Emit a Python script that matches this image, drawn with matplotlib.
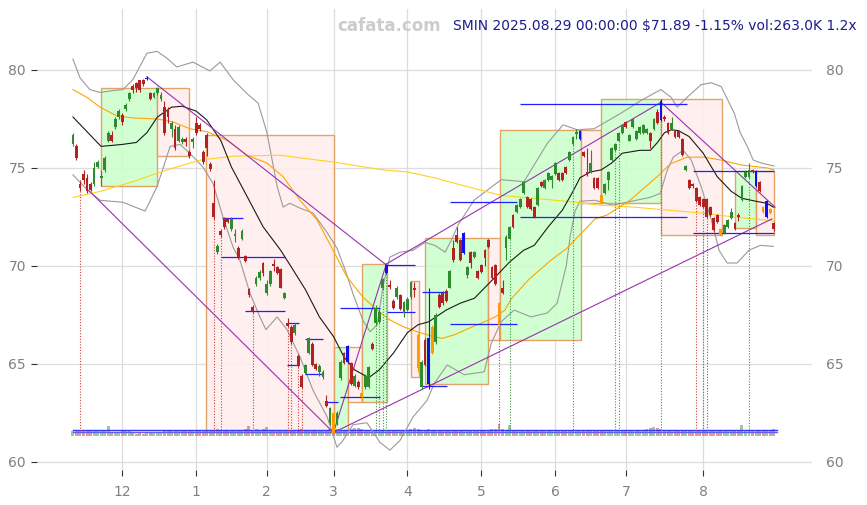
import matplotlib
matplotlib.use('Agg')
import matplotlib.pyplot as plt
from matplotlib.patches import Rectangle
import numpy as np

# ---------------- data ----------------
kinds = list("grrrrrgggg" "grggrggrrr" "rbrgggrrgr" "ggrrgrrrrr" "rgrrrggrgr"
             "rrggrggrrr" "grrgrrggrr" "ggrgoggrbr" "groggrgggb" "rrgrgggrog"
             "rbogrrrgrr" "rbgrgrrrrr" "rorggrgggr" "rrgrggggrr" "rgggbrrgrr"
             "oggggggrgg" "ggggrgrbrr" "grrrgrrrrr" "rrrrogggrr" "gggrbrobor")

opens = [76.2, 76.1, 74.2, 74.7, 74.5, 74.2, 74.2, 75.05, 74.5, 74.9,
         76.4, 76.7, 77.1, 77.6, 77.7, 78.0, 78.5, 79.2, 79.35, 79.5,
         79.5, 79.55, 78.8, 78.6, 78.8, 78.5, 78.1, 77.9, 77.0, 77.0,
         76.4, 76.3, 76.5, 75.8, 76.3, 77.3, 77.2, 75.8, 76.7, 75.2,
         73.2, 70.7, 71.8, 72.45, 72.4, 71.9, 71.55, 70.9, 71.4, 70.5,
         68.8, 67.9, 69.1, 69.4, 70.15, 68.6, 69.1, 70.1, 69.95, 69.85,
         68.35, 67.1, 66.9, 66.6, 65.4, 64.4, 64.55, 65.55, 66.0, 65.0,
         64.6, 64.35, 63.1, 62.0, 62.5, 62.0, 64.3, 65.55, 65.1, 65.05,
         63.9, 64.1, 63.5, 63.8, 63.8, 66.0, 67.1, 67.15, 68.9, 69.65,
         69.05, 68.2, 68.4, 68.5, 67.6, 67.75, 68.4, 68.85, 66.5, 63.8,
         66.2, 64.0, 66.9, 66.1, 68.5, 68.6, 68.7, 68.9, 70.9, 71.6,
         71.3, 70.65, 69.55, 70.7, 70.45, 69.75, 70.05, 70.8, 71.3, 69.95,
         70.05, 68.1, 68.9, 70.9, 71.4, 72.6, 72.75, 73.0, 73.7, 73.5,
         73.4, 73.0, 73.1, 74.3, 74.0, 74.4, 74.4, 74.7, 74.75, 74.75,
         75.05, 75.4, 76.2, 76.75, 76.5, 75.8, 74.8, 74.8, 74.5, 74.5,
         73.6, 73.7, 74.4, 75.4, 75.9, 76.4, 76.8, 77.35, 76.4, 77.1,
         76.5, 76.8, 76.8, 76.8, 76.8, 77.0, 77.85, 77.45, 77.6, 77.3,
         77.0, 76.9, 76.9, 76.5, 74.9, 74.4, 74.2, 74.0, 73.5, 73.4,
         73.4, 73.0, 72.45, 72.6, 71.9, 71.7, 72.0, 72.45, 72.2, 72.6,
         73.35, 74.55, 74.55, 74.9, 74.85, 74.3, 73.0, 73.3, 72.9, 72.2]

closes = [76.7, 75.5, 74.0, 74.4, 73.8, 73.9, 75.0, 75.3, 74.6, 75.5,
          76.8, 76.4, 77.5, 77.9, 77.35, 78.2, 78.8, 79.0, 79.1, 79.0,
          79.3, 79.6, 78.5, 78.8, 79.1, 78.7, 76.8, 77.6, 77.3, 76.0,
          77.1, 76.5, 76.3, 75.6, 76.5, 76.8, 77.0, 75.3, 76.0, 74.95,
          72.5, 71.0, 71.6, 72.0, 72.25, 72.4, 71.65, 70.4, 71.8, 70.25,
          68.5, 67.65, 69.4, 69.7, 69.65, 69.1, 69.75, 70.0, 69.65, 68.9,
          68.6, 66.95, 66.1, 67.0, 64.9, 63.8, 64.95, 66.3, 64.95, 64.75,
          64.9, 64.6, 62.85, 62.75, 61.5, 62.5, 65.1, 65.05, 65.9, 64.0,
          64.4, 63.8, 63.3, 64.4, 64.85, 65.75, 67.85, 67.65, 69.35, 70.05,
          68.95, 67.85, 68.9, 67.8, 68.15, 68.3, 69.2, 68.75, 64.8, 65.1,
          64.95, 66.3, 65.55, 67.5, 67.9, 68.1, 68.2, 69.75, 70.3, 71.2,
          70.3, 71.7, 69.95, 70.15, 70.7, 69.4, 69.7, 70.4, 70.95, 69.4,
          69.1, 67.0, 68.6, 71.5, 72.0, 72.0, 73.1, 73.4, 74.3, 73.0,
          72.9, 72.5, 74.0, 74.1, 74.4, 74.75, 74.6, 75.25, 74.4, 74.4,
          74.75, 75.8, 76.6, 76.85, 76.9, 75.6, 74.65, 75.25, 74.0, 74.0,
          73.2, 74.2, 74.8, 76.0, 76.2, 76.8, 77.2, 77.1, 76.7, 77.5,
          76.9, 77.1, 77.2, 77.0, 76.4, 77.5, 77.3, 78.4, 77.5, 76.8,
          77.3, 76.6, 76.6, 75.65, 75.1, 74.0, 74.1, 73.3, 73.1, 73.0,
          72.5, 72.6, 71.85, 72.25, 71.6, 72.1, 72.35, 72.75, 71.9, 72.5,
          74.1, 74.8, 74.9, 74.8, 74.1, 73.8, 72.75, 72.5, 72.7, 71.89]

highs = [76.8, 76.2, 74.4, 74.9, 74.7, 74.3, 75.3, 75.4, 74.9, 75.6,
         76.9, 76.9, 77.6, 78.0, 77.8, 78.3, 78.9, 79.3, 79.4, 79.5,
         79.55, 79.7, 78.85, 78.85, 79.15, 78.9, 78.4, 78.1, 77.4, 77.2,
         77.2, 76.6, 76.6, 75.9, 76.6, 77.6, 77.3, 75.9, 76.8, 75.3,
         74.4, 71.1, 71.9, 72.5, 72.45, 72.5, 71.9, 71.0, 71.9, 70.55,
         68.9, 68.0, 69.5, 69.8, 70.2, 69.3, 69.8, 70.35, 70.0, 69.9,
         68.65, 67.35, 67.0, 67.1, 65.5, 64.5, 65.0, 66.4, 66.1, 65.05,
         65.0, 64.7, 63.4, 62.8, 62.6, 62.6, 65.2, 65.6, 65.95, 65.1,
         64.5, 64.2, 63.6, 64.5, 64.9, 66.1, 68.0, 67.8, 69.4, 70.1,
         69.3, 68.3, 69.0, 68.55, 68.2, 68.4, 69.25, 69.2, 66.6, 65.2,
         66.3, 68.9, 67.0, 67.6, 68.6, 68.7, 68.8, 69.8, 71.3, 72.0,
         71.35, 71.75, 70.0, 70.75, 70.75, 69.8, 70.1, 70.85, 71.35, 70.0,
         70.1, 68.15, 69.3, 71.6, 72.05, 72.65, 73.15, 73.45, 74.35, 73.55,
         73.45, 73.05, 74.05, 74.35, 74.45, 74.8, 74.65, 75.3, 74.8, 74.8,
         75.1, 75.85, 76.65, 77.0, 76.95, 75.85, 76.0, 75.9, 74.55, 74.55,
         73.65, 74.25, 74.85, 76.05, 76.25, 76.85, 77.25, 77.4, 76.75, 77.55,
         76.95, 77.15, 77.25, 77.05, 76.85, 77.55, 78.0, 78.5, 77.7, 77.35,
         77.6, 76.95, 76.95, 76.55, 75.15, 74.45, 74.25, 74.05, 73.55, 73.45,
         73.45, 73.05, 72.5, 72.65, 71.95, 72.15, 72.4, 72.95, 72.25, 72.7,
         74.15, 74.85, 75.25, 74.95, 74.9, 74.35, 73.05, 73.35, 72.95, 72.25]

lows = [76.1, 75.4, 73.8, 74.2, 73.7, 73.8, 74.1, 75.0, 74.1, 74.8,
        76.3, 76.3, 77.0, 77.5, 77.2, 77.9, 78.4, 78.8, 78.9, 78.9,
        79.2, 79.5, 78.45, 78.55, 78.7, 78.4, 76.7, 77.3, 76.6, 75.9,
        76.3, 76.2, 76.1, 75.5, 76.0, 76.7, 76.9, 75.2, 75.6, 74.85,
        72.4, 70.6, 71.5, 71.9, 72.2, 71.8, 71.2, 70.35, 71.3, 70.2,
        68.4, 67.6, 69.0, 69.3, 69.5, 68.5, 69.0, 69.75, 69.6, 68.85,
        68.3, 66.9, 66.0, 66.5, 64.85, 63.75, 64.5, 65.5, 64.9, 64.7,
        64.4, 64.25, 62.8, 61.9, 61.5, 61.9, 64.2, 65.0, 65.05, 63.95,
        63.85, 63.7, 63.1, 63.7, 63.75, 65.7, 67.0, 67.1, 68.8, 69.6,
        68.8, 67.8, 68.3, 67.75, 67.4, 67.7, 68.3, 68.4, 64.6, 63.7,
        64.9, 63.7, 65.5, 66.0, 67.85, 68.0, 68.15, 68.85, 70.2, 71.15,
        70.25, 70.6, 69.4, 69.9, 70.4, 69.35, 69.65, 70.0, 70.9, 69.35,
        69.05, 66.2, 68.55, 70.3, 71.35, 71.95, 72.7, 72.95, 73.65, 72.95,
        72.85, 72.45, 73.05, 74.05, 73.95, 74.35, 74.0, 74.65, 74.35, 74.35,
        74.7, 75.35, 76.15, 76.5, 76.45, 75.55, 74.6, 74.75, 73.95, 73.95,
        73.15, 73.65, 73.9, 75.35, 75.85, 76.35, 76.75, 77.05, 76.35, 77.05,
        76.45, 76.75, 76.75, 76.75, 76.0, 76.95, 77.25, 77.4, 77.4, 76.75,
        76.95, 76.55, 76.55, 75.6, 74.85, 73.95, 74.0, 73.25, 73.05, 72.95,
        72.45, 72.55, 71.8, 72.2, 71.55, 71.65, 71.95, 72.4, 71.85, 72.3,
        73.3, 74.5, 74.5, 74.75, 74.05, 73.75, 72.7, 72.45, 72.65, 71.8]

volumes_k = [210, 230, 240, 220, 200, 230, 210, 260, 220, 230,
             420, 120, 100, 110, 200, 190, 220, 110, 90, 100,
             95, 120, 110, 100, 130, 120, 220, 210, 200, 230,
             190, 210, 200, 220, 190, 210, 230, 240, 250, 240,
             260, 280, 250, 240, 230, 260, 250, 240, 230, 270,
             400, 250, 270, 260, 300, 380, 230, 240, 220, 260,
             230, 250, 240, 230, 250, 270, 240, 230, 250, 240,
             230, 220, 260, 280, 300, 270, 250, 240, 260, 280,
             340, 320, 270, 250, 240, 230, 260, 250, 240, 260,
             230, 250, 220, 240, 230, 250, 270, 330, 280, 260,
             250, 270, 240, 230, 220, 240, 230, 200, 220, 230,
             240, 220, 230, 250, 210, 240, 230, 250, 260, 280,
             300, 470, 290, 250, 430, 240, 230, 210, 220, 230,
             200, 220, 230, 240, 210, 230, 220, 210, 200, 230,
             220, 210, 240, 230, 220, 210, 230, 240, 220, 230,
             210, 220, 230, 240, 220, 230, 250, 240, 230, 220,
             240, 260, 250, 280, 330, 350, 320, 300, 250, 240,
             230, 250, 240, 260, 250, 240, 230, 250, 260, 240,
             250, 240, 260, 250, 240, 230, 250, 240, 230, 250,
             430, 260, 250, 240, 260, 250, 240, 250, 230, 263]
vol_line_levels_k = [232, 160]

month_idx = [14, 35, 55, 74, 95, 116, 137, 157, 179]
month_labels = ['12', '1', '2', '3', '4', '5', '6', '7', '8']

# moving average (black) and bands (gray), long averages (orange, yellow)
ma_idx = [0, 8, 14, 18, 21, 24, 28, 31, 35, 38, 42, 45, 49, 54, 59, 62, 66, 70, 74, 77,
          80, 84, 87, 91, 95, 98, 101, 106, 110, 114, 117, 120, 124, 128, 131, 135, 139, 142, 144, 147,
          150, 153, 156, 161, 164, 166, 168, 170, 172, 175, 179, 183, 187, 190, 194, 197, 199]
ma_val = [77.6, 76.1, 76.2, 76.3, 76.8, 77.6, 78.1, 78.15, 77.9, 77.45, 76.4, 75.05, 73.7, 72.0, 70.8, 69.95, 68.8, 67.4, 66.4, 65.35,
          64.7, 64.3, 64.7, 65.55, 66.6, 67.0, 67.15, 67.75, 68.1, 68.35, 68.9, 69.45, 70.2, 70.8, 71.05, 72.0, 72.85, 73.8, 74.5, 74.8,
          74.9, 75.25, 75.75, 75.9, 75.9, 76.3, 76.8, 76.95, 76.9, 76.6, 75.75, 74.55, 73.8, 73.45, 73.3, 73.2, 73.0]

up_idx = [0, 2, 4.8, 7.7, 11.4, 14.2, 17, 21, 23.9, 26.7, 29.5, 34.1, 38.9, 41.8, 45.5, 49.4, 52.6, 55.1, 58, 59.7,
          61.6, 64.5, 68.2, 72.2, 75, 77.3, 79.5, 82.4, 84.4, 86.4, 88.1, 90, 92.9, 96.6, 100, 102.8, 105.7, 107.7, 109.4, 113.9,
          121.6, 128.1, 134.7, 139.2, 143.2, 148, 150.9, 155.7, 161.4, 167, 169.9, 171.6, 174.4, 178.4, 181.3, 184.1, 187.8, 189.5, 191.5, 193.2,
          195.5, 199.1]
up_val = [80.55, 79.6, 79.0, 78.85, 78.95, 79.0, 79.5, 80.85, 80.95, 80.6, 80.15, 80.4, 79.95, 80.4, 79.5, 78.8, 78.3, 76.8, 74.05, 73.0,
          73.2, 72.95, 72.7, 71.7, 70.9, 69.8, 68.6, 67.2, 66.65, 67.0, 69.0, 70.45, 70.7, 70.8, 71.2, 71.05, 70.7, 71.4, 72.1, 73.35,
          74.4, 74.3, 76.25, 77.2, 76.95, 77.0, 77.3, 77.8, 78.45, 79.0, 78.6, 78.1, 78.6, 79.25, 79.35, 79.15, 77.8, 76.8, 76.1, 75.4,
          75.25, 75.1]

lo_idx = [0, 4, 7.7, 14.2, 20.5, 23.9, 27.6, 30.4, 33.2, 36.9, 39.8, 42.6, 45.5, 47.4, 50.3, 53.1, 54.8, 58, 60.8, 64.5,
          68.2, 72.2, 75, 76.7, 79.5, 83.5, 87.2, 90, 92.9, 96.6, 100.6, 102.6, 106.3, 111.1, 116.8, 118.8, 121.6, 125.3, 130.1, 134.7,
          137.5, 140.1, 141.2, 142.6, 144, 148.3, 153.4, 163.9, 166.8, 168.8, 170.5, 173.3, 175.6, 178.4, 181.3, 183.5, 185.8, 188.6, 192, 195.2,
          198.9]
lo_val = [74.65, 73.9, 73.35, 73.25, 72.8, 74.05, 76.1, 76.2, 75.75, 75.05, 74.2, 72.5, 70.95, 70.3, 68.6, 67.4, 66.75, 67.4, 66.75, 65.35,
          63.65, 62.3, 60.75, 61.1, 61.9, 62.0, 61.0, 60.6, 61.1, 62.3, 63.15, 64.0, 64.95, 64.45, 64.6, 66.05, 67.15, 67.75, 67.4, 67.6,
          68.1, 70.0, 71.5, 72.8, 73.3, 73.35, 73.1, 73.5, 73.7, 74.9, 75.55, 75.9, 75.4, 74.05, 72.35, 70.8, 70.15, 70.15, 70.8, 71.05,
          71.0]

or_idx = [0, 4, 7.7, 12.5, 17, 23.9, 28.4, 33.2, 38.1, 43.8, 49.4, 55.1, 59.7, 64.5, 69.3, 73.6, 77.8, 82.4, 86.4, 90,
          93.8, 97.7, 101.4, 104.8, 108.5, 112.2, 116.2, 119.9, 122.7, 124.4, 129.4, 135.8, 140.3, 144, 148.3, 151.7, 158.2, 165.9, 169.6, 174.4,
          179.3, 184.1, 189.8, 197.2, 199.1]
or_val = [79.0, 78.6, 78.1, 77.65, 77.55, 77.5, 77.35, 77.0, 76.85, 76.4, 75.65, 75.25, 74.55, 73.35, 72.35, 70.9, 69.45, 68.4, 67.75, 67.25,
          66.9, 66.65, 66.45, 66.3, 66.5, 66.8, 67.1, 67.4, 67.75, 68.3, 69.3, 70.3, 70.9, 71.6, 72.4, 72.6, 73.35, 74.55, 75.2, 75.55,
          75.55, 75.4, 75.15, 75.0, 74.9]

ye_idx = [0, 7.7, 17, 26.7, 36.1, 45.5, 58.8, 73.9, 88.1, 94.9, 102.6, 111.9, 121.6, 131, 140.3, 150, 159.4, 168.8, 178.4, 187.8, 199.1]
ye_val = [73.5, 73.8, 74.3, 74.9, 75.4, 75.6, 75.65, 75.3, 74.9, 74.8, 74.5, 74.05, 73.6, 73.45, 73.3, 73.1, 73.0, 72.85, 72.7, 72.5, 72.3]

# trend boxes
box_x0 = [8, 24, 37.8, 74, 78, 82, 96.1, 100, 118, 121.2, 144.2, 149.9, 167.1, 188, 194.1]
box_x1 = [24, 33, 74, 78, 82, 89.1, 98.4, 118, 121.2, 144.2, 149.9, 167.1, 184.2, 194.1, 199.1]
box_top = [79.1, 79.1, 76.67, 65.88, 65.87, 70.1, 69.23, 71.45, 71.45, 76.94, 76.94, 78.5, 78.5, 74.86, 74.86]
box_bot = [74.1, 75.6, 61.55, 61.55, 63.08, 63.08, 64.35, 64.0, 66.2, 66.2, 73.2, 73.2, 71.58, 71.92, 71.58]
box_kind = list("grrgrgrgrgrgrgr")

# blue level lines
lvl_x0 = [42.2, 42, 48.9, 60.9, 60.9, 66, 66, 71.6, 75.9, 75.9, 89.1, 89.1, 99.1, 99.1, 107.1, 107.1, 127, 127, 176.2, 176.2]
lvl_x1 = [48.2, 60.2, 60.2, 64.2, 64.2, 71.1, 71.1, 75.2, 87.2, 87.2, 97.2, 97.2, 106.2, 106.2, 126.1, 126.1, 174.3, 174.3, 199.1, 199.1]
lvl_y = [72.43, 70.44, 67.72, 67.08, 64.93, 66.26, 64.47, 63.05, 67.84, 63.3, 70.05, 67.64, 68.66, 63.86, 67.03, 73.26, 78.25, 72.52, 74.85, 71.67]

# purple trend lines (start idx, start price, end idx, end price)
tl_x0 = [4.5, 21, 74, 89, 74, 167]
tl_y0 = [73.85, 79.65, 61.5, 70.1, 61.5, 78.35]
tl_x1 = [74, 89, 89, 167, 198.5, 199.4]
tl_y1 = [61.5, 70.05, 70.1, 78.35, 72.4, 73.0]

# dotted signal lines
red_dot_idx = [2, 40, 42, 51, 61, 62, 64, 65, 121, 177, 179, 180]
green_dot_idx = [86, 87, 88, 89, 124, 142, 154, 155, 167, 192]

title = "SMIN 2025.08.29 00:00:00 $71.89 -1.15% vol:263.0K 1.2x"

# ---------------- drawing ----------------
col = {'g': '#2e8b2e', 'r': '#b22222', 'b': '#1010ee', 'o': '#ff9a00'}
vcol = {'g': '#5aa85a', 'r': '#c85a5a', 'b': '#5aa85a', 'o': '#c85a5a'}

fig = plt.figure(figsize=(8.67, 5.05), dpi=100)
ax = fig.add_axes([0.0427, 0.0693, 0.8939, 0.9129])
ax.set_xlim(-10.2, 209.9)
ax.set_ylim(59.59, 83.11)

for s in ax.spines.values():
    s.set_visible(False)
ax.grid(True, color='#dddddd', lw=0.9)
ax.set_axisbelow(True)

# boxes
for x0, x1, t, b, k in zip(box_x0, box_x1, box_top, box_bot, box_kind):
    fc = '#ccffcc' if k == 'g' else '#ffeeee'
    ax.add_patch(Rectangle((x0, b), x1 - x0, t - b, facecolor=fc, edgecolor='#e09a5a',
                           lw=1.0, alpha=0.9, zorder=1))

n = len(opens)
xs = np.arange(n)

# volume
vol_base = 61.33
vol_scale = 0.00125
ax.bar(xs, np.array(volumes_k) * vol_scale, bottom=vol_base, width=0.85,
       color=[vcol[k] for k in kinds], alpha=0.6, zorder=2)
for lv, c in zip(vol_line_levels_k, ['#3535ff', '#6060e0']):
    ax.plot([0, n], [vol_base + lv * vol_scale] * 2, color=c, lw=1.0, zorder=3)

# lines
ax.plot(up_idx, up_val, color='#9a9a9a', lw=0.8, zorder=3)
ax.plot(lo_idx, lo_val, color='#9a9a9a', lw=0.8, zorder=3)
ax.plot(ye_idx, ye_val, color='#ffd21f', lw=0.8, zorder=3)
ax.plot(or_idx, or_val, color='#ffa500', lw=0.8, zorder=3)
ax.plot(ma_idx, ma_val, color='#1a1a1a', lw=0.8, zorder=3)

# dotted signals
for i in red_dot_idx:
    ax.plot([i, i], [lows[i], 61.53], color='#d04040', lw=0.8, ls=(0, (1, 1.5)), zorder=3)
for i in green_dot_idx:
    ax.plot([i, i], [lows[i], 61.53], color='#3a9a3a', lw=0.8, ls=(0, (1, 1.5)), zorder=3)

# trend lines
for a, b, c, d in zip(tl_x0, tl_y0, tl_x1, tl_y1):
    ax.plot([a, c], [b, d], color='#9b30b0', lw=0.8, zorder=4)

# level lines
ax.hlines(lvl_y, lvl_x0, lvl_x1, colors='#2020ff', lw=0.9, zorder=4)

# candles
o = np.array(opens); c = np.array(closes)
bot = np.minimum(o, c)
hgt = np.maximum(np.abs(c - o), 0.05)
ccols = [col[k] for k in kinds]
ax.vlines(xs, lows, highs, colors=ccols, lw=0.8, zorder=5)
ax.bar(xs, hgt, bottom=bot, width=0.8, color=ccols, zorder=6)

# ticks
ax.set_xticks(month_idx)
ax.set_xticklabels(month_labels)
ax.set_yticks([60, 65, 70, 75, 80])
ax.tick_params(axis='x', length=4, color='#333333', labelcolor='#808080', labelsize=10, pad=7)
ax.tick_params(axis='y', length=4, color='#333333', labelcolor='#808080', labelsize=10, pad=4)
sec = ax.secondary_yaxis('right')
sec.set_yticks([60, 65, 70, 75, 80])
sec.tick_params(length=0, pad=10, labelcolor='#808080', labelsize=10)
for s in sec.spines.values():
    s.set_visible(False)

fig.text(0.4487, 0.9485, 'cafata.com', ha='center', va='center', color='#cccccc',
         fontsize=12, fontweight='bold')
fig.text(0.9885, 0.9485, title, ha='right', va='center', color='#1c1c8c', fontsize=10)

fig.savefig('out.png', dpi=100)
